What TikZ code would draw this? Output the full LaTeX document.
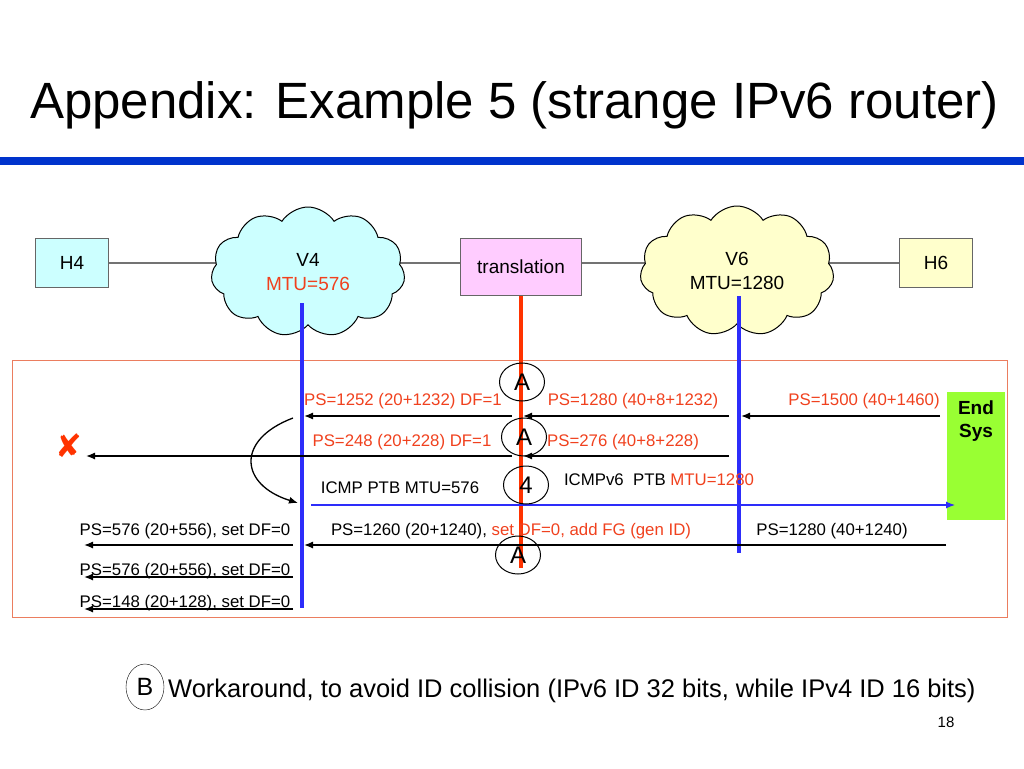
\documentclass[tikz,border=0pt]{standalone}
\usepackage{fontspec}
\setmainfont{Liberation Sans}
\newfontfamily\symfont{DejaVu Sans}
\usetikzlibrary{positioning,shapes.symbols,shapes.geometric,arrows.meta}
\pgfdeclarelayer{background}
\pgfsetlayers{background,main}
\definecolor{lblred}{RGB}{240,65,30}
\definecolor{barblue}{RGB}{0,51,204}
\definecolor{vblue}{RGB}{45,45,250}
\definecolor{vred}{RGB}{255,51,0}
\definecolor{hostcyan}{RGB}{204,255,255}
\definecolor{hostyellow}{RGB}{255,255,204}
\definecolor{transpink}{RGB}{255,204,255}
\definecolor{sysgreen}{RGB}{153,255,51}
\definecolor{framered}{RGB}{235,125,95}

\begin{document}
\begin{tikzpicture}[x=1pt,y=-1pt,
  host/.style={draw=black!60, line width=1.2pt, fill=#1, minimum width=73pt, minimum height=49pt, inner sep=0pt, font=\fontsize{19}{23}\selectfont},
  net/.style={cloud, cloud puffs=11, cloud puff arc=115, cloud ignores aspect, draw=black, line width=1pt, fill=#1, minimum width=194pt, minimum height=130pt, inner sep=0pt, align=center, font=\fontsize{19}{24}\selectfont},
  link/.style={draw=black!55, line width=1.2pt},
  msg/.style={-{Latex[length=9pt,width=7pt]}, line width=1.3pt},
  lbl/.style={anchor=base, inner sep=0pt, font=\fontsize{16.8}{20}\selectfont},
  tag/.style={draw, line width=1pt, ellipse, minimum width=45pt, minimum height=38pt, inner sep=0pt, font=\fontsize{24}{24}\selectfont},
  vline/.style={line width=3.5pt}]
\useasboundingbox (0,0) rectangle (1024,768);

% title
\node[lbl, anchor=base west, font=\fontsize{51}{60}\selectfont] (title) at (30,118) {Appendix: Example 5 (strange IPv6 router)};
\fill[barblue] (0,157) rectangle (1024,165);

% topology
\node[host=hostcyan] (h4) at (72,263) {H4};
\node[net=hostcyan] (v4) at (308,272) {V4\\\textcolor{lblred}{MTU=576}};
\node[host=transpink, minimum width=121pt, minimum height=57pt] (trans) at (521,267) {translation};
\node[net=hostyellow] (v6) at (737,271) {V6\\MTU=1280};
\node[host=hostyellow] (h6) at (936,263) {H6};
\begin{pgfonlayer}{background}
\draw[link] (h4.east) -- (h4.east -| v4.center) -- (h4.east -| trans.west);
\draw[link] (h4.east -| trans.east) -- (h4.east -| v6.center) -- (h4.east -| h6.west);
\end{pgfonlayer}

% message area
\draw[framered, line width=1pt] (12,360) rectangle (1007,617);
\node[fill=sysgreen, minimum width=58pt, minimum height=128pt, inner sep=0pt] (endsys) at (976,456) {};
\node[below=9pt of endsys.north, align=center, inner sep=0pt, font=\bfseries\fontsize{19}{23}\selectfont] (endlbl) {End\\Sys};

\coordinate (v4top) at (302,303); \coordinate (v4bot) at (302,608);
\coordinate (trbot) at (521,568);
\coordinate (v6top) at (739,296); \coordinate (v6bot) at (739,553);
\draw[vline, vblue] (v4top) -- (v4bot);
\draw[vline, vred, line width=4pt] (trans.south) -- (trbot);
\draw[vline, vblue] (v6top) -- (v6bot);

\path (940,416) coordinate (a1) (741,416) coordinate (b1)
      (729,416) coordinate (c1) (523,416) coordinate (d1)
      (512,416) coordinate (e1) (304,416) coordinate (f1)
      (729,456) coordinate (c2) (523,456) coordinate (d2)
      (512,456) coordinate (e2) (86,456) coordinate (g2)
      (311,505) coordinate (h3) (955,505) coordinate (i3)
      (946,545) coordinate (a4) (304,545) coordinate (f4)
      (293,545) coordinate (e4) (84,545) coordinate (g4)
      (293,577) coordinate (e5) (84,577) coordinate (g5)
      (293,609) coordinate (e6) (84,609) coordinate (g6)
      (293,418) coordinate (k1) (298,503) coordinate (k2);

\draw[msg] (a1) -- (b1);
\draw[msg] (c1) -- (d1);
\draw[msg] (e1) -- (f1);
\draw[msg] (c2) -- (d2);
\draw[msg] (e2) -- (g2);
\draw[msg, vblue, line width=1.1pt] (h3) -- (i3);
\draw[msg] (a4) -- (f4);
\draw[msg] (e4) -- (g4);
\draw[msg] (e5) -- (g5);
\draw[msg] (e6) -- (g6);
\draw[msg] (k1) .. controls (235,440) and (240,485) .. (k2);

\node[text=vred, inner sep=0pt, font=\symfont\fontsize{32}{32}\selectfont] (drop) at (69,446) {✘};

% labels
\node[lbl, text=lblred] (ps1252) at (403,405) {PS=1252 (20+1232) DF=1};
\node[lbl, text=lblred] (ps1280a) at (633,405) {PS=1280 (40+8+1232)};
\node[lbl, text=lblred] (ps1500) at (864,405) {PS=1500 (40+1460)};
\node[lbl, text=lblred] (ps248) at (402,446) {PS=248 (20+228) DF=1};
\node[lbl, text=lblred] (ps276) at (623,446) {PS=276 (40+8+228)};
\node[lbl] (icmp4) at (400,493) {ICMP PTB MTU=576};
\node[lbl] (icmp6) at (659,485) {ICMPv6\ \ PTB \textcolor{lblred}{MTU=1280}};
\node[lbl] (ps1260) at (511,535) {PS=1260 (20+1240), \textcolor{lblred}{set DF=0, add FG (gen ID)}};
\node[lbl] (ps1280b) at (832,535) {PS=1280 (40+1240)};
\node[lbl] (ps576a) at (185,535) {PS=576 (20+556), set DF=0};
\node[lbl] (ps576b) at (185,575) {PS=576 (20+556), set DF=0};
\node[lbl] (ps148) at (185,607) {PS=148 (20+128), set DF=0};

\node[tag] (t1) at (522,382) {A};
\node[tag] (t2) at (524,437) {A};
\node[tag] (t3) at (526,485) {4};
\node[tag] (t4) at (518,555) {A};

% footnote
\node[draw, ellipse, minimum width=38pt, minimum height=46pt, inner sep=0pt, font=\fontsize{25}{28}\selectfont] (noteb) at (145,687) {B};
\node[lbl, anchor=base west, font=\fontsize{25.5}{28}\selectfont] (note) at (168,697) {Workaround, to avoid ID collision (IPv6 ID 32 bits, while IPv4 ID 16 bits)};
\node[lbl, font=\fontsize{15}{18}\selectfont] (page) at (946,727) {18};
\end{tikzpicture}
\end{document}
